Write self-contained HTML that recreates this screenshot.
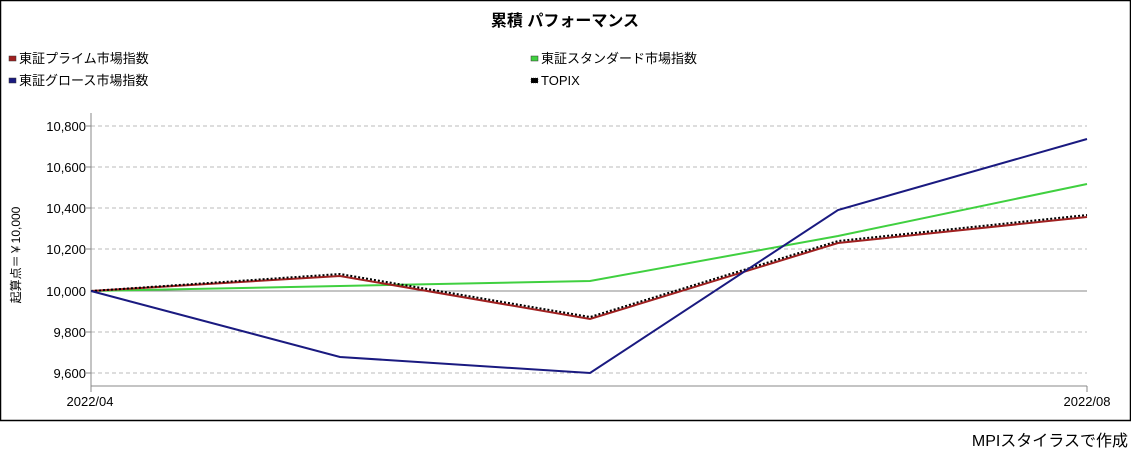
<!DOCTYPE html>
<html><head><meta charset="utf-8"><style>
body{margin:0;width:1131px;height:453px;background:#fff;overflow:hidden;font-family:"Liberation Sans","Noto Sans CJK JP",sans-serif}
</style></head><body>
<svg width="1131" height="453" xmlns="http://www.w3.org/2000/svg" font-family="Liberation Sans, Noto Sans CJK JP, sans-serif">
<rect x="0.5" y="0.5" width="1130" height="420" fill="#fff" stroke="#000" stroke-width="1.5"/>
<text x="565" y="26" text-anchor="middle" font-size="16" font-weight="bold">累積 パフォーマンス</text>
<g font-size="13">
<rect x="9" y="56" width="7" height="5" fill="#a02020" stroke="#333" stroke-width="0.5"/><text x="19" y="63">東証プライム市場指数</text>
<rect x="531" y="56" width="7" height="5" fill="#40d040" stroke="#333" stroke-width="0.5"/><text x="541" y="63">東証スタンダード市場指数</text>
<rect x="9" y="78" width="7" height="5" fill="#1a1a80" stroke="#333" stroke-width="0.5"/><text x="19" y="85">東証グロース市場指数</text>
<rect x="531" y="78" width="7" height="5" fill="#000" stroke="#333" stroke-width="0.5" stroke-dasharray="1,1"/><text x="541" y="85">TOPIX</text>
</g>
<g stroke="#bbb" stroke-dasharray="4,3" stroke-width="1">
<line x1="91" y1="126" x2="1087" y2="126"/><line x1="91" y1="167" x2="1087" y2="167"/><line x1="91" y1="208" x2="1087" y2="208"/><line x1="91" y1="249" x2="1087" y2="249"/><line x1="91" y1="332" x2="1087" y2="332"/><line x1="91" y1="373" x2="1087" y2="373"/>
</g>
<line x1="91" y1="291" x2="1087" y2="291" stroke="#888"/>
<line x1="91" y1="113" x2="91" y2="392" stroke="#888"/>
<line x1="91" y1="386" x2="1087" y2="386" stroke="#888"/>
<line x1="1087" y1="386" x2="1087" y2="392" stroke="#888"/>
<g font-size="13" text-anchor="end">
<text x="86" y="131">10,800</text><text x="86" y="172">10,600</text><text x="86" y="213">10,400</text><text x="86" y="254">10,200</text><text x="86" y="296">10,000</text><text x="86" y="337">9,800</text><text x="86" y="378">9,600</text>
</g>
<g stroke="#888"><line x1="86" y1="126" x2="91" y2="126"/><line x1="86" y1="167" x2="91" y2="167"/><line x1="86" y1="208" x2="91" y2="208"/><line x1="86" y1="249" x2="91" y2="249"/><line x1="86" y1="332" x2="91" y2="332"/><line x1="86" y1="373" x2="91" y2="373"/></g>
<text x="90" y="406" font-size="13" text-anchor="middle">2022/04</text>
<text x="1087" y="406" font-size="13" text-anchor="middle">2022/08</text>
<text transform="translate(20,255) rotate(-90)" font-size="12" text-anchor="middle">起算点＝￥10,000</text>
<polyline points="91,291 340,286 590,281 838,236 1087,184" fill="none" stroke="#40d040" stroke-width="2"/>
<polyline points="91,291 340,276 590,319 838,243 1087,217" fill="none" stroke="#a02020" stroke-width="2"/>
<polyline points="91,291 340,274 590,317 838,241 1087,215" fill="none" stroke="#000" stroke-width="2" stroke-dasharray="2,2"/>
<polyline points="91,291 340,357 590,373 838,210 1087,139" fill="none" stroke="#1a1a80" stroke-width="2"/>
<text x="1128" y="446" font-size="16" text-anchor="end">MPIスタイラスで作成</text>
</svg>
</body></html>
